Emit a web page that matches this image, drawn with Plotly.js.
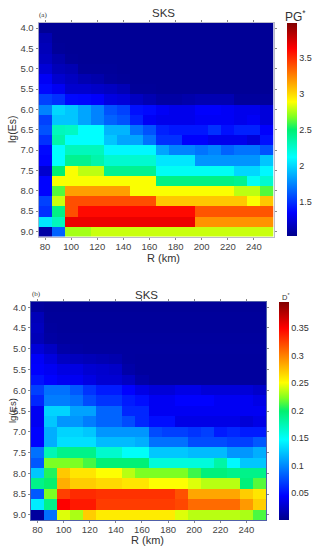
<!DOCTYPE html>
<html><head><meta charset="utf-8">
<script src="https://cdn.plot.ly/plotly-3.0.1.min.js"></script>
<style>html,body{margin:0;padding:0;background:#fff}#c{width:319px;height:550px}</style></head>
<body><div id="c"></div>
<script>
var rValues=[80,90,100,110,120,130,140,150,160,170,180,190,200,210,220,230,240,250];
var lgEs=[4,4.25,4.5,4.75,5,5.25,5.5,5.75,6,6.25,6.5,6.75,7,7.25,7.5,7.75,8,8.25,8.5,8.75,9];
var pgValues=[
[1.06,1.06,1.06,1.06,1.06,1.06,1.06,1.06,1.06,1.06,1.06,1.06,1.06,1.06,1.06,1.06,1.06,1.06],
[1.14,1.06,1.06,1.06,1.06,1.06,1.06,1.06,1.06,1.06,1.06,1.06,1.06,1.06,1.06,1.06,1.06,1.06],
[1.16,1.07,1.06,1.06,1.06,1.06,1.06,1.06,1.06,1.06,1.06,1.06,1.06,1.06,1.06,1.06,1.06,1.06],
[1.18,1.12,1.07,1.06,1.06,1.06,1.06,1.06,1.06,1.06,1.06,1.06,1.06,1.06,1.06,1.06,1.06,1.06],
[1.24,1.16,1.14,1.07,1.07,1.07,1.06,1.06,1.06,1.06,1.06,1.06,1.06,1.06,1.06,1.06,1.06,1.06],
[1.33,1.22,1.18,1.14,1.12,1.08,1.07,1.06,1.06,1.06,1.06,1.06,1.06,1.06,1.06,1.06,1.06,1.06],
[1.38,1.32,1.22,1.22,1.2,1.18,1.15,1.07,1.07,1.06,1.06,1.06,1.06,1.06,1.06,1.06,1.06,1.06],
[1.55,1.5,1.38,1.37,1.35,1.27,1.25,1.18,1.14,1.1,1.1,1.12,1.14,1.14,1.14,1.08,1.08,1.08],
[1.75,2.0,1.95,1.85,1.75,1.6,1.55,1.4,1.38,1.33,1.3,1.3,1.35,1.35,1.33,1.3,1.3,1.25],
[1.55,1.95,1.95,1.85,1.75,1.65,1.6,1.45,1.33,1.3,1.3,1.3,1.33,1.33,1.33,1.3,1.33,1.25],
[1.6,2.3,2.28,2.12,2.12,1.9,1.9,1.7,1.6,1.45,1.42,1.42,1.42,1.5,1.4,1.45,1.45,1.35],
[1.5,2.35,2.12,2.12,2.12,1.95,1.85,1.85,1.7,1.5,1.5,1.35,1.35,1.3,1.3,1.3,1.25,1.4],
[1.38,2.12,2.3,2.3,2.3,2.1,2.1,2.1,2.1,1.85,1.75,1.75,1.7,1.75,1.65,1.7,1.7,1.6],
[1.36,2.12,2.42,2.42,2.35,2.25,2.25,2.25,2.25,2.05,2.05,2.05,1.8,1.8,1.8,1.8,1.8,1.95],
[1.22,2.5,2.88,2.78,2.78,2.42,2.42,2.42,2.42,2.15,2.15,2.15,2.15,2.15,2.15,2.0,2.0,2.1],
[1.36,2.88,2.88,2.88,2.88,2.88,2.88,2.88,2.88,2.45,2.45,2.45,2.45,2.45,2.45,2.42,2.15,2.25],
[1.36,2.62,3.17,3.17,3.17,3.17,3.17,2.88,2.88,2.88,2.88,2.88,2.88,2.88,2.88,2.78,2.78,2.62],
[1.55,2.8,3.4,3.4,3.4,3.4,3.4,3.4,3.4,3.05,3.05,3.05,3.05,3.05,3.05,3.05,2.88,3.05],
[1.5,2.45,3.4,3.6,3.6,3.6,3.6,3.6,3.6,3.6,3.6,3.6,3.38,3.38,3.38,3.38,3.38,3.38],
[2.05,2.3,3.68,3.68,3.68,3.68,3.68,3.68,3.68,3.68,3.68,3.68,3.2,3.2,3.2,3.2,3.2,3.2],
[1.1,1.65,2.74,2.74,2.8,2.8,2.8,2.8,2.8,2.8,2.8,2.8,2.8,2.8,2.8,2.8,2.8,2.8]];
var dValues=[
[.008,.006,.006,.006,.006,.006,.006,.006,.006,.006,.006,.006,.006,.006,.006,.006,.006,.006],
[.018,.007,.007,.007,.007,.007,.007,.007,.007,.007,.007,.007,.007,.007,.007,.007,.007,.007],
[.02,.008,.007,.007,.007,.007,.007,.007,.007,.007,.007,.007,.007,.007,.007,.007,.007,.007],
[.018,.01,.008,.008,.008,.008,.008,.008,.008,.008,.008,.008,.008,.008,.008,.008,.008,.008],
[.03,.022,.012,.01,.009,.009,.009,.009,.009,.009,.009,.009,.009,.009,.009,.009,.009,.009],
[.042,.032,.022,.02,.018,.016,.014,.009,.008,.008,.008,.008,.008,.008,.008,.008,.008,.008],
[.044,.04,.034,.034,.028,.026,.024,.012,.008,.008,.008,.008,.008,.008,.008,.008,.008,.008],
[.052,.045,.04,.04,.034,.028,.028,.022,.012,.008,.008,.008,.008,.008,.008,.008,.008,.008],
[.07,.09,.09,.08,.065,.055,.055,.045,.035,.03,.03,.035,.035,.03,.03,.03,.03,.025],
[.06,.095,.095,.09,.075,.065,.065,.055,.05,.04,.04,.045,.045,.045,.04,.04,.04,.035],
[.04,.13,.13,.11,.11,.085,.085,.06,.06,.04,.04,.04,.04,.04,.04,.04,.04,.04],
[.04,.125,.105,.105,.095,.085,.085,.075,.06,.05,.05,.035,.035,.035,.035,.035,.03,.035],
[.045,.115,.13,.13,.125,.105,.105,.105,.105,.075,.07,.07,.065,.07,.055,.06,.055,.055],
[.045,.115,.135,.135,.135,.12,.12,.12,.115,.09,.09,.09,.075,.075,.075,.07,.07,.08],
[.09,.175,.19,.19,.19,.165,.165,.15,.15,.125,.125,.125,.12,.12,.12,.105,.105,.115],
[.08,.222,.222,.222,.212,.197,.197,.197,.197,.16,.16,.16,.16,.16,.18,.145,.125,.125],
[.125,.205,.272,.26,.26,.25,.25,.235,.222,.222,.222,.222,.21,.195,.195,.19,.19,.19],
[.19,.2,.282,.27,.27,.265,.265,.26,.26,.25,.25,.25,.243,.235,.235,.235,.195,.215],
[.08,.222,.325,.333,.333,.33,.33,.33,.33,.33,.33,.318,.285,.285,.285,.285,.27,.26],
[.14,.19,.35,.34,.34,.326,.326,.326,.326,.326,.326,.322,.308,.308,.308,.308,.29,.27],
[.008,.09,.243,.232,.27,.258,.258,.258,.258,.258,.258,.243,.235,.235,.235,.235,.232,.213]];
var pgTicks=[1.5,2,2.5,3,3.5];
var pgTickLabels=["1.5","2","2.5","3","3.5"];
var dTicks=[.05,.1,.15,.2,.25,.3,.35];
var dTickLabels=["0.05","0.1","0.15","0.2","0.25","0.3","0.35"];
var jetScale=[[0,'#00008b'],[.11,'#0000ff'],[.37,'#00ffff'],[.5,'#00f070'],[.56,'#80ff20'],[.63,'#ffff00'],[.88,'#ff0000'],[1,'#800000']];

var W=319,H=550;
var fam='"Liberation Sans", Arial, sans-serif';
var narrow='"Liberation Sans Narrow", "Liberation Sans", Arial, sans-serif';
function dx(a,b){return [a/W,b/W];}
function dy(t,b){return [1-b/H,1-t/H];}
var tickFont={family:narrow,size:9.5,color:'#444'};
function heat(z,xa,ya,zmin,zmax,cbx,thick,cby0,cby1,tv,tt){
  return {type:'heatmap',x:rValues,y:lgEs,z:z,xaxis:xa,yaxis:ya,zmin:zmin,zmax:zmax,colorscale:jetScale,
    hovertemplate:'R %{x}<br>lg(Es) %{y}<br>%{z}<extra></extra>',
    colorbar:{x:cbx/W,xanchor:'left',thickness:thick,thicknessmode:'pixels',lenmode:'fraction',
      len:(cby1-cby0)/H,y:1-cby1/H,yanchor:'bottom',outlinewidth:0,tickmode:'array',tickvals:tv,ticktext:tt,
      ticks:'',ticklen:0,tickfont:{family:narrow,size:9,color:'#333'},xpad:0,ypad:0}};
}
function xAxis(dom,anchor,col){
  return {domain:dom,anchor:anchor,range:[75,255],tickmode:'array',tickvals:[80,100,120,140,160,180,200,220,240],
    ticks:'outside',ticklen:2,tickwidth:1,tickcolor:'#888',mirror:'ticks',showline:true,linecolor:col,linewidth:1,showgrid:false,zeroline:false,
    ticklabelstandoff:-1,tickfont:tickFont};
}
function yAxis(dom,anchor,col){
  return {domain:dom,anchor:anchor,range:[9.125,3.875],tickmode:'array',tickvals:[4,4.5,5,5.5,6,6.5,7,7.5,8,8.5,9],
    ticktext:['4.0','4.5','5.0','5.5','6.0','6.5','7.0','7.5','8.0','8.5','9.0'],
    ticks:'outside',ticklen:2,tickwidth:1,tickcolor:'#888',mirror:'ticks',showline:true,linecolor:col,linewidth:1,showgrid:false,zeroline:false,
    tickfont:tickFont};
}
function note(x,y,text,size,family,angle){
  return {xref:'paper',yref:'paper',x:x/W,y:1-y/H,text:text,showarrow:false,xanchor:'center',yanchor:'middle',textangle:angle||0,
    font:{family:family||fam,size:size,color:'#333'}};
}
var data=[
  heat(pgValues,'x','y',1.03,3.98,286.5,9.5,23,236,pgTicks,pgTickLabels),
  heat(dValues,'x2','y2',.001,.397,279,10,302,520,dTicks,dTickLabels)
];
var layout={width:W,height:H,margin:{l:0,r:0,t:0,b:0},paper_bgcolor:'#fff',plot_bgcolor:'#fff',showlegend:false,
  xaxis:xAxis(dx(38.5,273.5),'y','rgba(120,120,150,0.5)'),yaxis:yAxis(dy(23,236.5),'x','rgba(120,120,150,0.5)'),
  xaxis2:xAxis(dx(31,266),'y2','#5060a8'),yaxis2:yAxis(dy(302,520),'x2','#5060a8'),
  annotations:[
    note(163,13,'SKS',11.5),note(146,295,'SKS',11.5),
    note(43,15,'(a)',7,'Liberation Serif, serif'),note(36,294,'(b)',7,'Liberation Serif, serif'),
    note(295,16,'PG<sup>*</sup>',12),note(285,297,'D<sup>*</sup>',7.5),
    note(163,258,'R (km)',11),note(147,540,'R (km)',11),
    note(12,130,'lg(Es)',10.5,null,-90),note(12,411,'lg(Es)',9.5,null,-90)
  ]};
Plotly.newPlot('c',data,layout,{displayModeBar:false,responsive:false});
</script></body></html>
